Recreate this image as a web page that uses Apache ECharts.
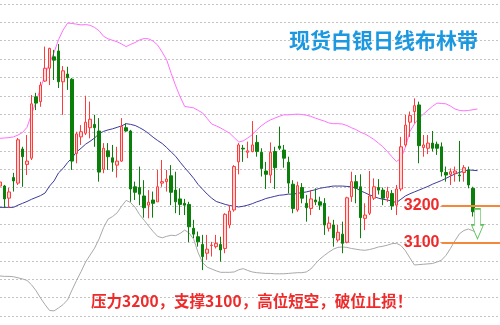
<!DOCTYPE html>
<html><head><meta charset="utf-8">
<script src="https://cdn.jsdelivr.net/npm/echarts@6/dist/echarts.min.js"></script>
<style>html,body{margin:0;padding:0;background:#fff}#c{width:500px;height:325px}</style>
</head><body><div id="c"></div>
<script>
const titleText = '现货白银日线布林带';
const noteText = '压力3200，支撑3100，高位短空，破位止损！';
const levels = [3200, 3100];
const opens = [3254,3254,3221,3277,3262,3355,3313,3330,3497,3484,
3540,3575,3606,3622,3538,3559,3545,3343,3388,3398,
3413,3422,3404,3300,3350,3331,3311,3322,3413,3404,
3252,3250,3227,3202,3216,3211,3262,3266,3282,3243,
3219,3207,3204,3139,3116,3095,3071,3092,3089,3095,
3084,3148,3189,3320,3357,3346,3348,3373,3346,3295,
3284,3348,3363,3352,3319,3259,3189,3250,3207,3193,
3216,3211,3207,3139,3148,3107,3123,3101,3225,3266,
3252,3166,3180,3221,3250,3243,3222,3234,3202,3246,
3366,3428,3457,3475,3359,3357,3371,3368,3361,3291,
3286,3289,3284,3291,3298,3248,3166];
const closes = [3265,3219,3238,3268,3380,3334,3322,3478,3480,3529,
3575,3629,3597,3538,3568,3549,3322,3396,3402,3428,
3436,3413,3292,3357,3334,3319,3322,3416,3404,3246,
3237,3232,3195,3210,3207,3252,3266,3273,3237,3211,
3204,3202,3143,3123,3102,3062,3082,3093,3098,3080,
3177,3186,3307,3366,3355,3350,3366,3348,3302,3286,
3346,3304,3357,3330,3262,3193,3255,3221,3195,3219,
3211,3202,3148,3153,3113,3128,3098,3222,3266,3248,
3168,3175,3227,3252,3243,3221,3239,3200,3246,3361,
3420,3446,3473,3364,3366,3371,3357,3357,3293,3284,
3293,3295,3282,3304,3257,3184,3180];
const lows = [3243,3194,3194,3239,3257,3252,3284,3325,3461,3470,
3538,3529,3543,3521,3448,3516,3298,3316,3366,3393,
3384,3361,3266,3289,3298,3293,3277,3320,3402,3211,
3216,3202,3168,3166,3168,3211,3252,3239,3202,3180,
3175,3175,3101,3112,3089,3025,3053,3062,3084,3048,
3071,3139,3184,3286,3320,3330,3346,3334,3280,3246,
3262,3246,3352,3304,3234,3180,3184,3207,3157,3175,
3202,3189,3121,3130,3089,3102,3071,3098,3211,3207,
3112,3134,3175,3216,3231,3202,3211,3189,3175,3240,
3361,3388,3425,3316,3334,3341,3348,3339,3280,3266,
3257,3266,3266,3266,3248,3171,3162];
const highs = [3270,3257,3249,3290,3385,3361,3393,3502,3508,3538,
3634,3631,3625,3641,3581,3579,3548,3402,3420,3500,
3484,3448,3439,3371,3371,3366,3361,3439,3425,3407,
3266,3307,3270,3243,3239,3298,3325,3298,3311,3293,
3248,3219,3211,3162,3130,3121,3121,3102,3121,3116,
3180,3202,3311,3371,3366,3375,3431,3393,3357,3320,
3373,3361,3416,3366,3334,3270,3266,3262,3230,3243,
3248,3225,3221,3171,3162,3148,3157,3225,3293,3284,
3286,3207,3295,3275,3273,3250,3252,3243,3257,3388,
3448,3457,3493,3484,3393,3393,3404,3375,3373,3307,
3302,3307,3377,3311,3307,3252,3184];
const upper = [3384,3385,3386,3388,3393,3400,3414,3450,3484,3520,
3557,3589,3618,3653,3679,3698,3697,3695,3693,3694,
3692,3686,3677,3662,3655,3651,3647,3641,3634,3640,
3645,3652,3656,3655,3649,3638,3619,3598,3561,3527,
3497,3471,3469,3467,3460,3453,3438,3423,3418,3412,
3405,3398,3386,3374,3377,3385,3394,3407,3418,3427,
3434,3439,3444,3448,3448,3449,3450,3449,3447,3444,
3439,3435,3431,3426,3424,3424,3423,3419,3413,3408,
3401,3396,3389,3381,3371,3361,3348,3334,3321,3329,
3360,3403,3423,3439,3450,3461,3471,3480,3479,3478,
3472,3464,3460,3459,3460,3462,3464];
const middle = [3196,3196,3196,3196,3202,3207,3212,3218,3223,3228,
3235,3254,3268,3290,3302,3318,3331,3347,3357,3368,
3376,3385,3397,3403,3407,3410,3414,3418,3424,3422,
3419,3413,3406,3397,3387,3378,3370,3359,3347,3335,
3319,3304,3290,3275,3258,3245,3232,3221,3212,3208,
3204,3201,3199,3197,3199,3202,3206,3211,3215,3220,
3223,3226,3229,3230,3232,3232,3234,3236,3238,3241,
3244,3248,3250,3252,3254,3254,3254,3253,3252,3249,
3241,3236,3230,3226,3221,3218,3216,3213,3209,3218,
3227,3233,3238,3243,3248,3253,3259,3264,3269,3275,
3281,3287,3291,3295,3298,3297,3296];
const lower = [3009,3008,3008,3007,3004,3001,2997,2985,2969,2949,
2931,2915,2914,2922,2931,2944,2971,2997,3021,3047,
3066,3085,3110,3141,3164,3171,3181,3199,3215,3209,
3196,3176,3161,3145,3130,3117,3113,3117,3120,3119,
3125,3134,3126,3109,3072,3045,3033,3028,3023,3019,
3019,3019,3020,3026,3029,3024,3020,3018,3017,3016,
3016,3015,3015,3015,3016,3017,3018,3018,3020,3028,
3042,3055,3065,3074,3082,3087,3088,3087,3084,3082,
3080,3079,3081,3084,3088,3090,3093,3097,3098,3092,
3078,3058,3039,3040,3041,3042,3043,3047,3052,3065,
3084,3105,3124,3133,3137,3132,3127];
const arrowPoint = [106, 3151];

const N_CAT = 112;
const categories = [];
for (let i = 0; i < N_CAT; i++) categories.push(String(i + 1));
const candles = opens.map((o, i) => [o, closes[i], lows[i], highs[i]]);

const chart = echarts.init(document.getElementById('c'), null, {renderer: 'canvas'});
const lineS = (data, color) => ({type: 'line', data, symbol: 'none', smooth: false,
  lineStyle: {color, width: 1}, silent: true, z: 3});
const lvlLine = v => [{coord: [98, v], label: {show: true, position: 'start', distance: 2,
  formatter: String(v), color: '#ee2a2a', fontSize: 16, fontWeight: 'bold',
  fontFamily: 'Liberation Sans, Arial, sans-serif'}}, {coord: [111, v]}];

chart.setOption({
  animation: false,
  backgroundColor: '#ffffff',
  title: [
    {text: titleText, left: 289, top: 30, padding: 0,
     textStyle: {fontSize: 21, fontWeight: 'bold', color: '#1b98e0', fontFamily: 'Noto Sans CJK SC'}},
    {text: noteText, left: 91, top: 293, padding: 0,
     textStyle: {fontSize: 15.5, fontWeight: 'bold', color: '#ee2a2a', fontFamily: 'Noto Sans CJK SC'}}
  ],
  grid: {left: 0, right: 0, top: 4, bottom: 9},
  xAxis: {type: 'category', data: categories, boundaryGap: false,
    axisLine: {show: false}, axisTick: {show: false}, axisLabel: {show: false}, splitLine: {show: false}},
  yAxis: {type: 'value', min: 2900, max: 3750, interval: 50,
    axisLine: {show: false}, axisTick: {show: false}, axisLabel: {show: false},
    splitLine: {show: true, lineStyle: {color: '#c4c4c4', type: [2, 2], width: 1}}},
  series: [
    lineS(upper, '#ff70ff'),
    lineS(middle, '#3a3a9c'),
    lineS(lower, '#a8a8a8'),
    {type: 'candlestick', data: candles, barWidth: 3, z: 4,
     itemStyle: {color: '#ffd6d6', color0: '#0a7f0a', borderColor: '#ff3b3b', borderColor0: '#0a7f0a', borderWidth: 1},
     markLine: {silent: true, symbol: 'none', animation: false,
       lineStyle: {color: '#f5873a', width: 2, type: 'solid'},
       data: levels.map(lvlLine)},
     markPoint: {silent: true, animation: false,
       data: [{coord: arrowPoint, symbol: 'path://M3 0 L9 0 L9 16 L12 16 L6 30 L0 16 L3 16 Z',
         symbolSize: [12, 30], itemStyle: {color: '#ffffff', borderColor: '#5cbf5c', borderWidth: 1},
         label: {show: false}}]}
    }
  ]
});
</script></body></html>
